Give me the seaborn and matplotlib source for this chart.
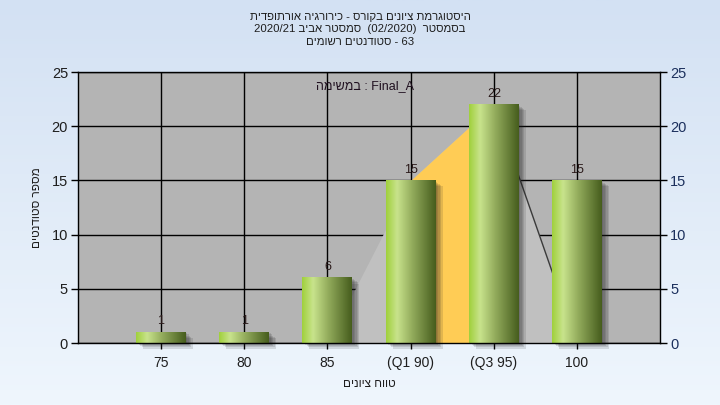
import re
from matplotlib import pyplot as plt
from matplotlib.colors import LinearSegmentedColormap
import matplotlib.patheffects as pe
import numpy as np
import seaborn as sns

# data
grades = ['75', '80', '85', '(Q1 90)', '(Q3 95)', '100']
students = [1, 1, 6, 15, 22, 15]
# distribution area behind bars (category index, height)
area_x = [2, 3, 4, 5]
area_y = [0, 15, 22, 0]
quart_x = [3, 4]
quart_y = [15, 22]

title_lines = [
    'היסטוגרמת ציונים בקורס - כירורגיה אורתופדית',
    'בסמסטר  (02/2020)  סמסטר אביב 2020/21',
    '63 - סטודנטים רשומים',
]
task_label = 'Final_A : במשימה'
x_label = 'טווח ציונים'
y_label = 'מספר סטודנטים'


def visual(s):
    # matplotlib has no bidi support, so flip RTL text into display order
    r = s[::-1].translate(str.maketrans('()', ')('))
    return re.sub(r'[0-9A-Za-z_/.]+', lambda m: m.group(0)[::-1], r)


sns.set_style('white')
plt.rcParams['font.family'] = ['Liberation Sans', 'DejaVu Sans']

fig = plt.figure(figsize=(7.2, 4.05), dpi=100)

# light blue gradient background
bg = fig.add_axes([0, 0, 1, 1], zorder=-10)
bg_cmap = LinearSegmentedColormap.from_list('bg', ['#d3e1f3', '#eff6fd'])
bg.imshow(np.linspace(0, 1, 256).reshape(-1, 1), cmap=bg_cmap, aspect='auto',
          extent=[0, 1, 0, 1])
bg.axis('off')

ax = fig.add_axes([0.108, 0.153, 0.809, 0.669])
ax.set_facecolor('#b4b4b4')

ax.fill_between(area_x, area_y, 0, color='#c0c0c0', lw=0, zorder=1)
ax.fill_between(quart_x, quart_y, 0, color='#ffcc55', lw=0, zorder=1.1)
ax.plot(area_x[2:], area_y[2:], color='#3a3a3a', lw=1, zorder=1.2)

sns.barplot(x=grades, y=students, order=grades, width=0.6, color='#8cb048',
            linewidth=0, ax=ax, zorder=2)

bar_cmap = LinearSegmentedColormap.from_list(
    'bar', [(0, '#a0d03c'), (0.22, '#c8e38c'), (0.5, '#97b060'), (1, '#465d1d')])
grad = np.linspace(0, 1, 128).reshape(1, -1)
# soft shadow: a few offset layers
shadow = [pe.SimplePatchShadow(offset=(d, -0.8 * d), shadow_rgbFace='#202020', alpha=0.13)
          for d in (1, 2, 3, 4, 5)]
for patch, v in zip(ax.containers[0], students):
    x0, y0, w, h = patch.get_x(), patch.get_y(), patch.get_width(), patch.get_height()
    patch.set_clip_on(False)
    patch.set_path_effects(shadow + [pe.Normal()])
    ax.imshow(grad, cmap=bar_cmap, aspect='auto', extent=[x0, x0 + w, y0, y0 + h],
              zorder=2.1, interpolation='bilinear')
    ax.annotate(str(v), (x0 + w / 2, v), xytext=(0, 3.5), textcoords='offset points',
                ha='center', va='bottom', fontsize=9, color='#2a1a1a', zorder=3)

ax.set_xlim(-1, 6)
ax.set_ylim(0, 25)
ax.set_yticks([0, 5, 10, 15, 20, 25])
ax.set_xticks(range(len(grades)))
ax.set_xticklabels(grades)
ax.set_axisbelow(True)
ax.grid(True, color='black', lw=1)

for s in ax.spines.values():
    s.set_color('black')
    s.set_linewidth(1)
    s.set_zorder(4)

ax.tick_params(axis='y', which='both', left=True, right=True, labelleft=True,
               labelright=True, length=5, width=1, color='black', labelsize=10.5,
               labelcolor='#1e1e1e', pad=2)
ax.tick_params(axis='x', bottom=True, length=4, width=1, color='black',
               labelsize=10, labelcolor='#1e1e1e', pad=5)
for t in ax.yaxis.get_major_ticks():
    t.label2.set_color('#1b2f5c')

ax.set_xlabel(visual(x_label), fontsize=8.5, labelpad=6, color='#1e1e1e')
ax.set_ylabel(visual(y_label), fontsize=8.5, labelpad=6, color='#1e1e1e')

ax.text(0.493, 0.948, visual(task_label), transform=ax.transAxes, ha='center',
        va='center', fontsize=9, color='#201020')

for i, line in enumerate(title_lines):
    fig.text(0.5, 1 - (17 + i * 12.5) / 405, visual(line), ha='center', va='center',
             fontsize=8.2, color='#1e1e1e')

fig.savefig('out.png', dpi=100)
